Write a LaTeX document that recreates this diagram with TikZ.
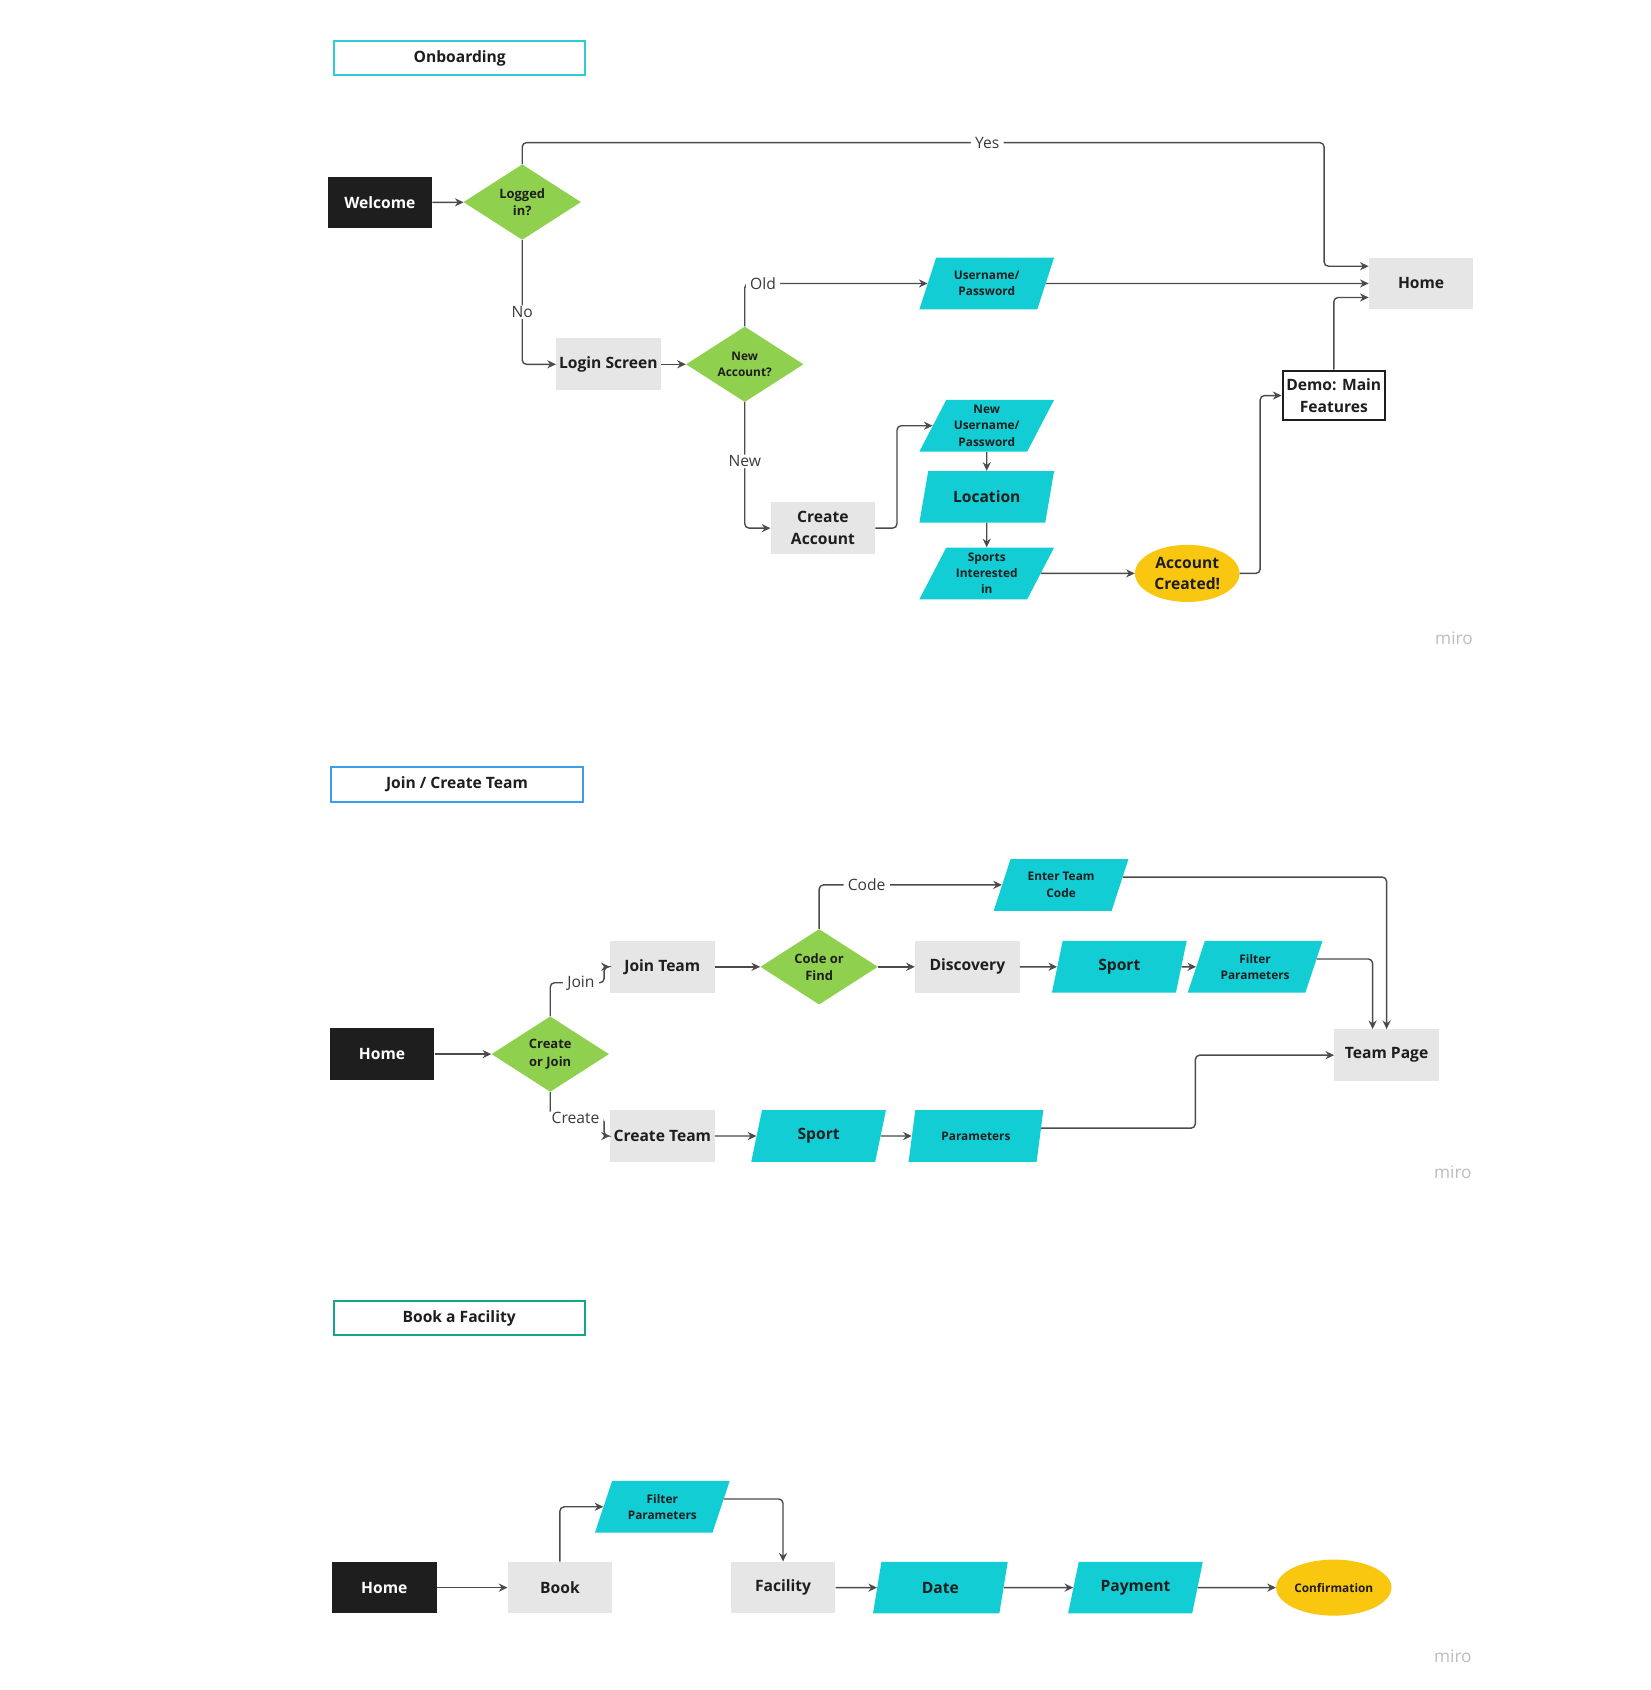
\documentclass[tikz,border=0pt]{standalone}
\usepackage{fontspec}
\setmainfont{Open Sans}
\usetikzlibrary{arrows.meta,calc,shapes.geometric}
\definecolor{ink}{HTML}{1E1E1E}
\definecolor{boxgray}{HTML}{E6E6E6}
\definecolor{datacyan}{HTML}{12CDD4}
\definecolor{choicegreen}{HTML}{8FD14F}
\definecolor{endyellow}{HTML}{FAC710}
\definecolor{wire}{HTML}{4B4B4B}
\definecolor{tagtext}{HTML}{3A3A3A}
\definecolor{logogray}{HTML}{BDBDBD}
\definecolor{onboardblue}{HTML}{2FCBD8}
\definecolor{teamblue}{HTML}{3C9DEB}
\definecolor{bookgreen}{HTML}{15A58B}
\newcommand{\fsmain}{\fontsize{14.5}{20}\selectfont\bfseries}
\newcommand{\fsmid}{\fontsize{12}{16}\selectfont\bfseries}
\newcommand{\fssmall}{\fontsize{11}{15}\selectfont\bfseries}
\newcommand{\fstag}{\fontsize{14.5}{17}\selectfont}
\newcommand{\fslogo}{\fontsize{16}{18}\selectfont}
\tikzset{
>={Stealth[length=8pt,width=7.5pt]},
base node/.style={inner sep=1pt,align=center,text=ink,font=\fsmain},
start node/.style={base node,fill=ink,text=white,minimum width=97pt,minimum height=48pt},
step node/.style={base node,fill=boxgray,minimum width=97pt,minimum height=48pt},
demo node/.style={base node,fill=white,draw=ink,line width=2pt,minimum width=95pt,minimum height=46pt},
data node/.style={base node,trapezium,trapezium left angle=58,trapezium right angle=122,trapezium stretches body=true,fill=datacyan,minimum width=125pt,minimum height=48pt,font=\fssmall},
choice node/.style={base node,diamond,aspect=1.56,inner sep=0pt,fill=choicegreen,minimum width=109pt,minimum height=70pt,font=\fsmid},
end node/.style={base node,ellipse,inner sep=0pt,fill=endyellow,minimum width=97pt,minimum height=53pt},
title node/.style={base node,draw=#1,line width=1.8pt,minimum width=233pt,minimum height=32pt},
tag node/.style={fill=white,inner xsep=4pt,inner ysep=1pt,text=tagtext,font=\fstag},
link/.style={->,draw=wire,line width=1.3pt,rounded corners=4pt},
logo/.style={text=logogray,font=\fslogo}}

\begin{document}
\begin{tikzpicture}[x=1pt,y=-1pt]

\path[use as bounding box,fill=white] (0,0) rectangle (1531,1568);

% Onboarding
\node[title node=onboardblue] (t1) at (426.5,54) {Onboarding};
\node[start node] (1) at (352.5,188) {Welcome};
\node[choice node] (2) at (484.5,187.5) {Logged\\in?};
\node[step node] (3) at (564.5,338) {Login Screen};
\node[choice node,font=\fssmall] (4) at (691,338) {New\\Account?};
\node[data node] (5) at (915.5,263) {Username/\\Password};
\node[step node] (6) at (1318.5,263) {Home};
\node[step node] (7) at (763.5,490) {Create\\Account};
\node[data node] (8) at (915.5,395) {New\\Username/\\Password};
\node[data node,font=\fsmain] (9) at (915.5,461) {Location};
\node[data node] (10) at (915.5,532) {Sports\\Interested\\in};
\node[end node] (11) at (1101.5,532) {Account\\Created!};
\node[demo node] (12) at (1237.5,367) {Demo: Main\\Features};
\node[logo] (m1) at (1349,592) {miro};

\path[link]
	(1) edge (2)
	(3) edge (4)
	(5) edge (6)
	(8) edge (9)
	(9) edge (10)
	(10) edge (11);
\draw[link] (2.north) |- node[tag node,pos=0.79] {Yes} ++(744,-20) |- ([yshift=16pt]6.west);
\draw[link] (2.south) |- node[tag node,pos=0.29] {No} (3.west);
\draw[link] (4.north) |- node[tag node,pos=0.55] {Old} (5.west);
\draw[link] (4.south) |- node[tag node,pos=0.235] {New} (7.west);
\draw[link] (7.east) -- ++(20,0) |- (8.west);
\draw[link] (11.east) -- ++(19,0) |- (12.west);
\draw[link] (12.north) |- ([yshift=-13pt]6.west);

% Join / Create Team
\node[title node=teamblue] (t2) at (424,728) {Join / Create Team};
\node[start node] (21) at (354.5,978) {Home};
\node[choice node] (22) at (510.5,978) {Create\\or Join};
\node[step node] (23) at (614.5,897) {Join Team};
\node[choice node] (24) at (760,897) {Code or\\Find};
\node[data node] (25) at (984.5,821) {Enter Team\\Code};
\node[step node] (26) at (897.5,897) {Discovery};
\node[data node,font=\fsmain] (27) at (1038.5,897) {Sport};
\node[data node] (28) at (1164.5,897) {Filter\\Parameters};
\node[step node] (29) at (614.5,1054) {Create Team};
\node[data node,font=\fsmain] (30) at (759.5,1054) {Sport};
\node[data node] (31) at (905.5,1054) {Parameters};
\node[step node] (32) at (1286.5,979) {Team Page};
\node[logo] (m2) at (1348,1088) {miro};

\path[link]
	(21) edge (22)
	(23) edge (24)
	(24) edge (26)
	(26) edge (27)
	(27) edge (28)
	(29) edge (30)
	(30) edge (31);
\draw[link] (22.north) |- node[tag node,pos=0.785] {Join} ++(50,-31) |- (23.west);
\draw[link] (22.south) |- node[tag node,pos=0.735] {Create} ++(50,24) |- (29.west);
\draw[link] (24.north) |- node[tag node,pos=0.63] {Code} (25.west);
\draw[link] ($(25.bottom right corner)!0.65!(25.top right corner)$) -| (32.north);
\draw[link] ($(28.bottom right corner)!0.65!(28.top right corner)$) -| ([xshift=-13pt]32.north);
\draw[link] ($(31.bottom right corner)!0.65!(31.top right corner)$) -- ++(143,0) |- (32.west);

% Book a Facility
\node[title node=bookgreen] (t3) at (426,1223) {Book a Facility};
\node[start node] (41) at (356.5,1473) {Home};
\node[step node] (42) at (519.5,1473) {Book};
\node[data node] (43) at (614.5,1398) {Filter\\Parameters};
\node[step node] (44) at (726.5,1473) {Facility};
\node[data node,font=\fsmain] (45) at (872.5,1473) {Date};
\node[data node,font=\fsmain] (46) at (1053.5,1473) {Payment};
\node[end node,font=\fssmall,minimum width=107pt,minimum height=52pt] (47) at (1237.5,1473) {Confirmation};
\node[logo] (m3) at (1348,1537) {miro};

\path[link]
	(41) edge (42)
	(44) edge (45)
	(45) edge (46)
	(46) edge (47);
\draw[link] (42.north) |- (43.west);
\draw[link] ($(43.bottom right corner)!0.65!(43.top right corner)$) -| (44.north);
\end{tikzpicture}
\end{document}
